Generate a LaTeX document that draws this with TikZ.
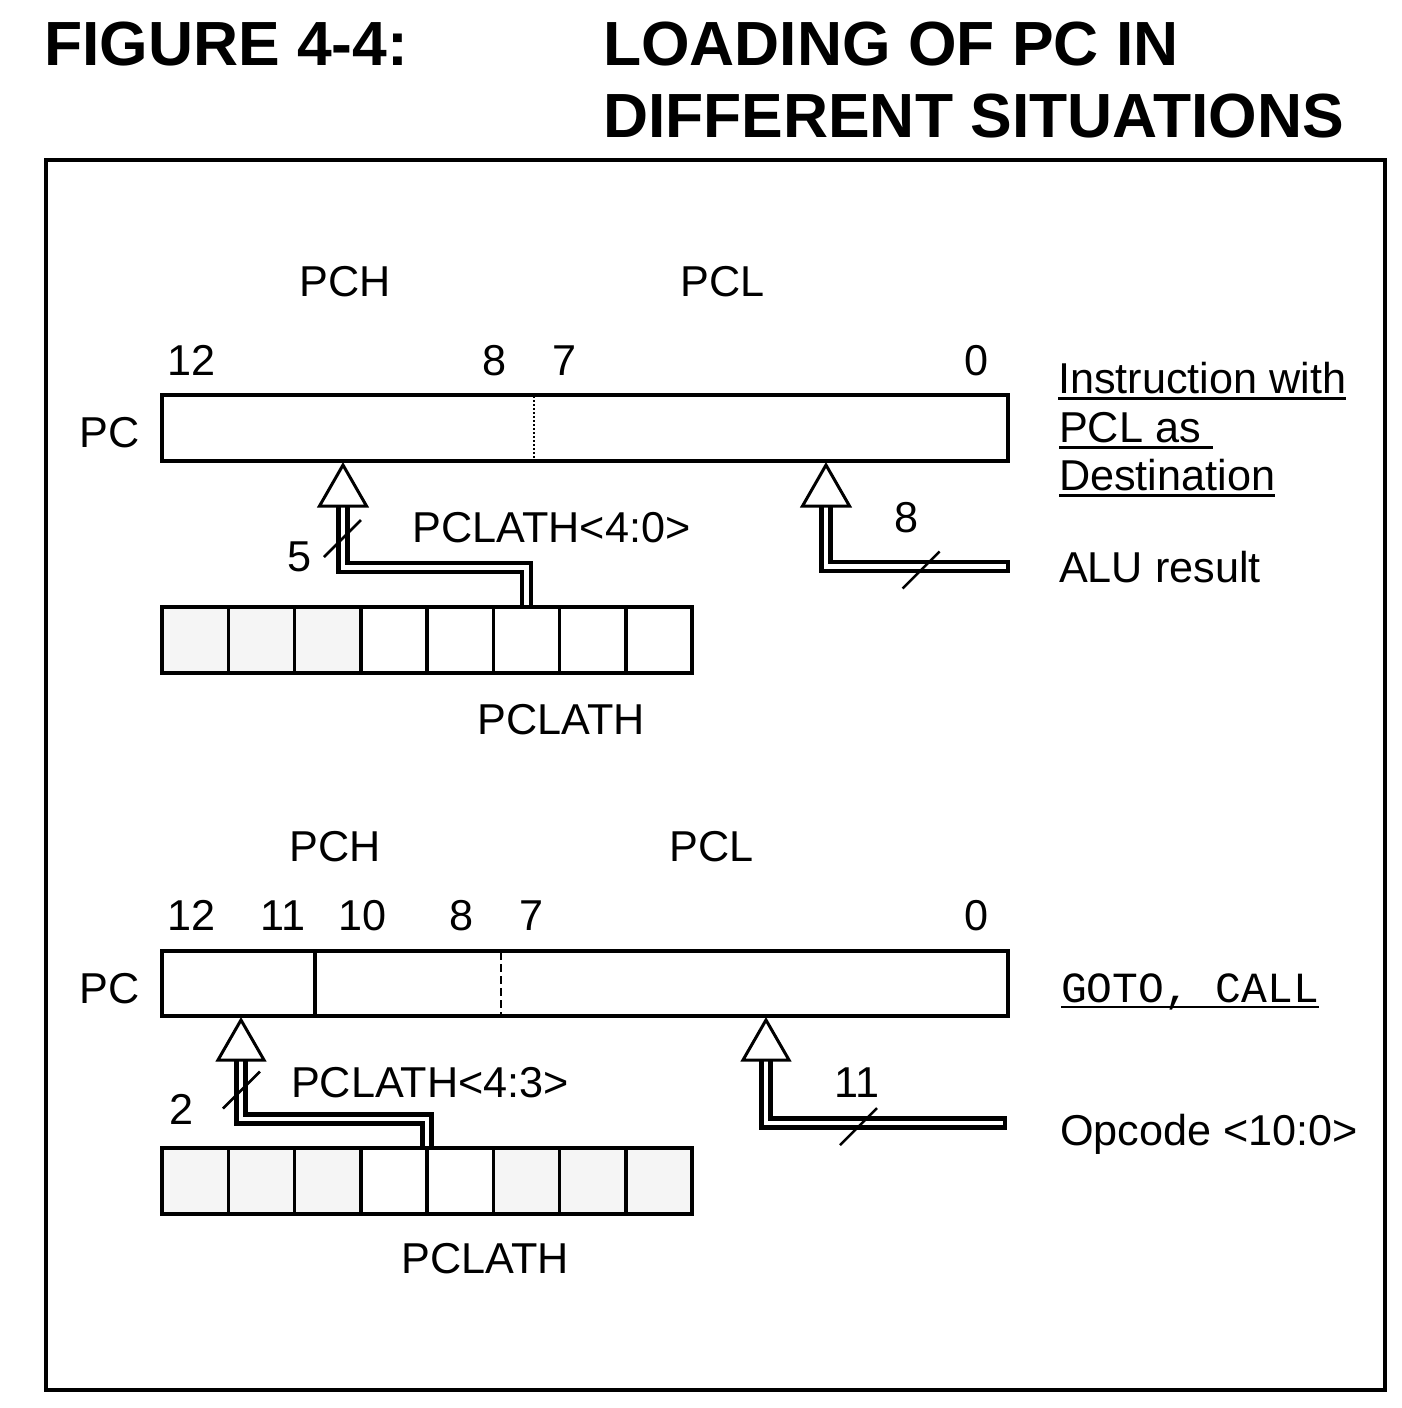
\documentclass[tikz,border=0pt]{standalone}
\usepackage{fontspec}
\setmainfont{Liberation Sans}
\setmonofont{Liberation Mono}
\pgfdeclarelayer{bg}
\pgfsetlayers{bg,main}
\colorlet{gcol}{black!4}
\tikzset{
  every node/.style={inner sep=0pt, outer sep=0pt},
  lbl/.style={font=\fontsize{21.6}{25}\selectfont},
  mono/.style={font=\fontsize{21.5}{25}\ttfamily},
  ttl/.style={font=\fontsize{31.2}{36}\selectfont\bfseries},
  reg/.style={draw, line width=1.8pt, anchor=north west, minimum width=423pt},
  cell/.style={draw, line width=1.75pt, anchor=north west, minimum width=33.125pt, minimum height=33pt},
  bus/.style={draw=black, line width=2.2pt, double=white, double distance=2.4pt, line cap=rect, line join=miter},
  tri/.style={draw, line width=1.5pt, fill=white, line join=miter},
  slash/.style={line width=1.25pt},
  uline/.style={line width=1.5pt},
  thinuline/.style={line width=1pt},
  dotdiv/.style={line width=1pt, dash pattern=on 1.2pt off 0.8pt},
  dashdiv/.style={line width=1pt, dash pattern=on 4pt off 2pt},
  soliddiv/.style={line width=1.8pt},
}
\begin{document}
\begin{tikzpicture}[x=0.5pt,y=-0.5pt]
\useasboundingbox (0,0) rectangle (1402,1408);
% title
\node[ttl, anchor=base west] (fig) at (44,65) {FIGURE 4-4:};
\node[ttl, anchor=base west] (tla) at (603,65) {LOADING OF PC IN};
\node[ttl, anchor=base west] (tlb) at (603,137) {DIFFERENT SITUATIONS};
\draw[line width=2pt] (46,160) rectangle (1385,1390);

% ================= top section =================
\node[lbl, anchor=base] (pchA) at (345,296) {PCH};
\node[lbl, anchor=base] (pclA) at (723,296) {PCL};
\node[lbl, anchor=base] (nA12) at (192,375) {12};
\node[lbl, anchor=base] (nA8) at (495,375) {8};
\node[lbl, anchor=base] (nA7) at (565,375) {7};
\node[lbl, anchor=base] (nA0) at (977,375) {0};
\node[lbl, anchor=base] (pcA) at (110,447) {PC};
\node[reg, minimum height=33pt] (regA) at (162,395) {};
\draw[dotdiv] (534,396) -- (534,460);

\node[lbl, anchor=base west] (insA) at (1058,393) {Instruction with};
\node[lbl, anchor=base west] (insB) at (1059,442) {PCL as\rule{0.278em}{0pt}};
\node[lbl, anchor=base west] (insC) at (1059,490) {Destination};
\draw[uline] ([yshift=-2.75pt]insA.base west) -- ([yshift=-2.75pt]insA.base east);
\draw[uline] ([yshift=-2.75pt]insB.base west) -- ([yshift=-2.75pt]insB.base east);
\draw[uline] ([yshift=-2.75pt]insC.base west) -- ([yshift=-2.75pt]insC.base east);
\node[lbl, anchor=base west] (alu) at (1059,582) {ALU result};

\foreach \i/\c in {0/gcol,1/gcol,2/gcol,3/white,4/white,5/white,6/white,7/white}
  \node[cell, fill=\c] (ta\i) at ({162+66.25*\i},607) {};
\node[lbl, anchor=base] (plA) at (561,734) {PCLATH};
\node[lbl, anchor=base] (plsA) at (551.5,542) {PCLATH<4:0>};
\node[lbl, anchor=base] (n5) at (300,571) {5};
\node[lbl, anchor=base] (n8) at (907,532) {8};

\coordinate (apA) at (343,465);
\coordinate (bsA) at (343,506);
\coordinate (kA) at (343,567.5);
\coordinate (apB) at (826,465);
\coordinate (bsB) at (826,506);
\coordinate (eB) at (1003.2,566.5);
\begin{pgfonlayer}{bg}
  \draw[bus] (ta5.north) |- (kA) -- (bsA);
  \draw[bus] (bsB) |- (eB);
\end{pgfonlayer}
\draw[tri] (apA) -- ++(23.5,41) -- ++(-47,0) -- cycle;
\draw[tri] (apB) -- ++(23.5,41) -- ++(-47,0) -- cycle;
\coordinate (sA) at (342.5,538.5);
\coordinate (sB) at (921,570);
\draw[slash] (sA) ++(-18.5,18.5) -- ++(37,-37);
\draw[slash] (sB) ++(-18.5,18.5) -- ++(37,-37);

% ================= bottom section =================
\node[lbl, anchor=base] (pchB) at (335,861) {PCH};
\node[lbl, anchor=base] (pclB) at (712,861) {PCL};
\node[lbl, anchor=base] (nB12) at (192,930) {12};
\node[lbl, anchor=base] (nB11) at (283,930) {11};
\node[lbl, anchor=base] (nB10) at (363,930) {10};
\node[lbl, anchor=base] (nB8) at (462,930) {8};
\node[lbl, anchor=base] (nB7) at (532,930) {7};
\node[lbl, anchor=base] (nB0) at (977,930) {0};
\node[lbl, anchor=base] (pcB) at (110,1003) {PC};
\node[reg, minimum height=32.5pt] (regB) at (162,951) {};
\draw[soliddiv] (315,951) -- (315,1016);
\draw[dashdiv] (501,952) -- (501,1015);

\node[mono, anchor=base west] (gc) at (1061,1002) {GOTO, CALL};
\draw[thinuline] ([yshift=-2.5pt]gc.base west) -- ([yshift=-2.5pt]gc.base east);
\node[lbl, anchor=base west] (opc) at (1060,1145) {Opcode <10:0>};

\foreach \i/\c in {0/gcol,1/gcol,2/gcol,3/white,4/white,5/gcol,6/gcol,7/gcol}
  \node[cell, fill=\c] (tb\i) at ({162+66.25*\i},1148) {};
\node[lbl, anchor=base] (plB) at (485,1273) {PCLATH};
\node[lbl, anchor=base] (plsB) at (430,1097) {PCLATH<4:3>};
\node[lbl, anchor=base] (n2) at (182,1124) {2};
\node[lbl, anchor=base] (n11) at (857,1097) {11};

\coordinate (apC) at (241,1020);
\coordinate (bsC) at (241,1060);
\coordinate (kC) at (241,1119);
\coordinate (apD) at (766,1020);
\coordinate (bsD) at (766,1060);
\coordinate (eD) at (1000.2,1123);
\begin{pgfonlayer}{bg}
  \draw[bus] (tb3.north east) |- (kC) -- (bsC);
  \draw[bus] (bsD) |- (eD);
\end{pgfonlayer}
\draw[tri] (apC) -- ++(23,40) -- ++(-46,0) -- cycle;
\draw[tri] (apD) -- ++(23,40) -- ++(-46,0) -- cycle;
\coordinate (sC) at (241.5,1090);
\coordinate (sD) at (858.5,1126.5);
\draw[slash] (sC) ++(-18.5,18.5) -- ++(37,-37);
\draw[slash] (sD) ++(-18.5,18.5) -- ++(37,-37);
\end{tikzpicture}
\end{document}
